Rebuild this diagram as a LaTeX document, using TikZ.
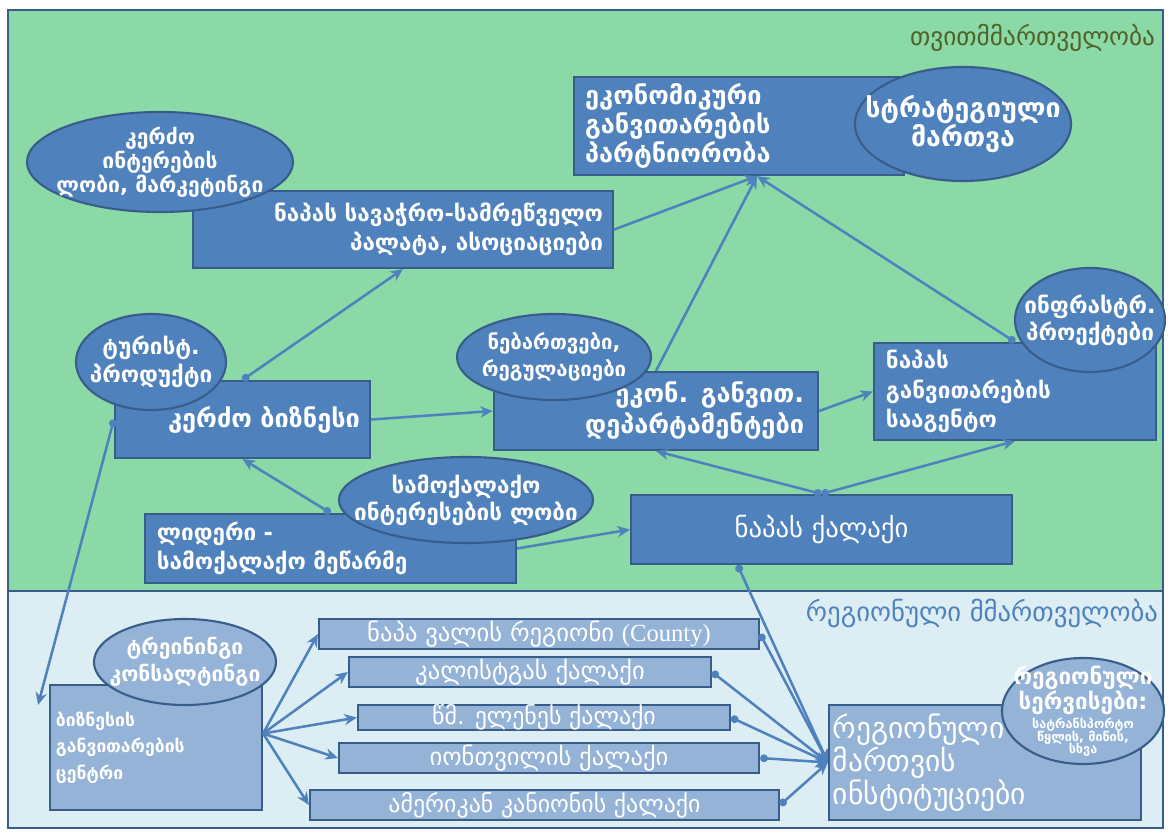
\documentclass[tikz,border=0pt]{standalone}
\usepackage{fontspec}
\setmainfont{DejaVu Sans}
\newfontfamily\latinserif{Liberation Serif}
\usetikzlibrary{shapes,arrows.meta,calc}

\definecolor{greenbg}{RGB}{140,217,168}
\definecolor{bluebg}{RGB}{220,238,244}
\definecolor{boxblue}{RGB}{79,129,189}
\definecolor{boxedge}{RGB}{56,93,138}
\definecolor{lightbox}{RGB}{149,179,215}
\definecolor{titlegreen}{RGB}{79,98,40}

\newcommand{\fsz}[2]{\fontsize{#1}{#2}\selectfont}

\tikzset{
  darkbox/.style={draw=boxedge, line width=1.5pt, fill=boxblue, text=white, inner sep=0pt},
  lightrect/.style={draw=boxedge, line width=1.5pt, fill=lightbox, text=white, inner sep=0pt},
  darkoval/.style={ellipse, draw=boxedge, line width=1.5pt, fill=boxblue, text=white, inner xsep=-60pt, inner ysep=-40pt, align=center},
  lightoval/.style={ellipse, draw=boxedge, line width=1.5pt, fill=lightbox, text=white, inner xsep=-60pt, inner ysep=-40pt, align=center},
  link/.style={draw=boxblue, line width=1.8pt, arrows={-Stealth[length=9pt,width=8pt]}},
  dotlink/.style={draw=boxblue, line width=1.8pt, arrows={Circle[length=5.5pt]-Stealth[length=9pt,width=8pt]}},
}

\begin{document}
\begin{tikzpicture}[x=0.025cm,y=-0.025cm]
    \useasboundingbox (0,0) rectangle (1168,833);
    \fill[white] (0,0) rectangle (1168,833);
    \fill[greenbg] (8,10) rectangle (1163,591);
    \fill[bluebg] (8,591) rectangle (1163,828);
    \draw[boxedge, line width=1.5pt] (8,10) rectangle (1163,828);
    \draw[boxedge, line width=1.5pt] (8,591) -- (1163,591);

    \node[anchor=east, text=titlegreen, font=\fsz{18}{21}] (selfgov) at (1160,38) {თვითმმართველობა};
    \node[anchor=east, text=boxblue, font=\fsz{19}{21}] (regov) at (1163,613) {რეგიონული მმართველობა};

    \node[darkbox, minimum width=8.25cm, minimum height=2.45cm, inner xsep=0.28cm, text width=7.69cm, align=left, font=\fsz{18}{20.6}\bfseries] (edp) at (739,126) {ეკონომიკური\\განვითარების\\პარტნიორობა};
    \node[darkbox, minimum width=10.5cm, minimum height=1.925cm, inner xsep=0.25cm, text width=10cm, align=right, font=\fsz{16}{21}\bfseries] (chamber) at (403,229.5) {ნაპას სავაჭრო-სამრეწველო\\პალატა, ასოციაციები};
    \node[darkbox, minimum width=6.375cm, minimum height=1.925cm, inner xsep=0.25cm, text width=5.875cm, align=right, font=\fsz{18}{21}\bfseries] (kb) at (242.5,419.5) {კერძო ბიზნესი};
    \node[darkbox, minimum width=8.1cm, minimum height=1.95cm, inner xsep=0.35cm, text width=7.4cm, align=right, font=\fsz{18}{22}\bfseries] (ekd) at (656,411) {ეკონ. განვით.\\დეპარტამენტები};
    \node[darkbox, minimum width=7.05cm, minimum height=2.425cm, inner xsep=0.3cm, text width=6.45cm, align=left, font=\fsz{16}{21}\bfseries] (agency) at (1015,391.5) {ნაპას\\განვითარების\\სააგენტო};
    \node[darkbox, minimum width=9.275cm, minimum height=1.725cm, inner xsep=0.3cm, text width=8.675cm, align=left, font=\fsz{16}{21}\bfseries] (leader) at (330.5,548.5) {ლიდერი -\\სამოქალაქო მეწარმე};
    \node[darkbox, minimum width=9.525cm, minimum height=1.725cm, font=\fsz{19}{21}] (city) at (821.5,529.5) {ნაპას ქალაქი};

    \node[lightrect, minimum width=5.3cm, minimum height=3.125cm, inner xsep=0.15cm, text width=5cm, align=left, font=\fsz{12.5}{19}\bfseries] (bdc) at (156,747.5) {ბიზნესის\\განვითარების\\ცენტრი};
    \node[lightrect, minimum width=7.8cm, minimum height=2.875cm, inner xsep=0.1cm, text width=7.6cm, align=left, font=\fsz{21}{21.5}] (rmi) at (985,762.5) {რეგიონული\\მართვის\\ინსტიტუციები};
    \node[lightrect, minimum width=11cm, minimum height=0.75cm, font=\fsz{17.5}{18}] (napa) at (539,634) {ნაპა ვალის რეგიონი {\latinserif(County)}};
    \node[lightrect, minimum width=9.05cm, minimum height=0.75cm, font=\fsz{17.5}{18}] (calistoga) at (530,672) {კალისტგას ქალაქი};
    \node[lightrect, minimum width=9.3cm, minimum height=0.625cm, font=\fsz{17}{18}] (helena) at (544,717.5) {წმ. ელენეს ქალაქი};
    \node[lightrect, minimum width=10.5cm, minimum height=0.75cm, font=\fsz{17.5}{18}] (yountville) at (549,758) {იონთვილის ქალაქი};
    \node[lightrect, minimum width=11.725cm, minimum height=0.75cm, font=\fsz{17}{18}] (canyon) at (544.5,805) {ამერიკან კანიონის ქალაქი};

    \node[darkoval, minimum width=6.65cm, minimum height=2.5cm, font=\fsz{15}{17}\bfseries] (lobby) at (160,162) {კერძო\\ინტერების\\ლობი, მარკეტინგი};
    \node[darkoval, minimum width=5.4cm, minimum height=2.85cm, font=\fsz{19}{21}\bfseries] (strategy) at (963,124) {სტრატეგიული\\მართვა};
    \node[darkoval, minimum width=3.75cm, minimum height=2.4cm, font=\fsz{16}{20}\bfseries] (tourism) at (151,362) {ტურისტ.\\პროდუქტი};
    \node[darkoval, minimum width=4.85cm, minimum height=2.15cm, font=\fsz{14.5}{19}\bfseries] (permits) at (554,357) {ნებართვები,\\რეგულაციები};
    \node[darkoval, minimum width=3.75cm, minimum height=2.6cm, font=\fsz{16}{19}\bfseries] (infra) at (1090,320) {ინფრასტრ.\\პროექტები};
    \node[darkoval, minimum width=6.35cm, minimum height=2.15cm, font=\fsz{16}{19}\bfseries] (civic) at (466,500) {სამოქალაქო\\ინტერესების ლობი};
    \node[lightoval, minimum width=4.55cm, minimum height=2.15cm, font=\fsz{15}{19}\bfseries] (training) at (185,662) {ტრეინინგი\\კონსალტინგი};
    \node[lightoval, minimum width=4.05cm, minimum height=2.65cm, font=\fsz{16}{16.5}\bfseries] (services) at (1083,711) {რეგიონული\\სერვისები:\\[-3pt]{\fsz{9}{9}სატრანსპორტო}\\[-7.5pt]{\fsz{9}{9}წყლის, მიწის,}\\[-7.5pt]{\fsz{9}{9}სხვა}};

    \coordinate (edpin) at ($(edp.south)+(18,0)$);
    \coordinate (bdcin) at (38,705);
    \coordinate (bdcout) at ($(bdc.east)+(0,-14)$);

    \draw[link] (chamber.east) -- (edpin);
    \draw[link] (ekd.north) -- (edpin);
    \draw[dotlink] (agency.north) -- (edpin);
    \draw[dotlink] (kb.north) -- (chamber.south);
    \draw[link] (kb.east) -- (ekd.west);
    \draw[link] (ekd.east) -- (agency.west);
    \draw[dotlink] (leader.north) -- (kb.south);
    \draw[link] (leader.east) -- (city.west);
    \draw[dotlink] (city.north) -- (ekd.south);
    \draw[dotlink] (city.north) -- (agency.south);
    \draw[dotlink] ($(city.south)+(-84,0)$) -- (rmi.west);
    \draw[dotlink] (kb.west) -- (bdcin);
    \foreach \town in {napa,calistoga,helena,yountville,canyon}{
        \draw[link] (bdcout) -- (\town.west);
        \draw[dotlink] (\town.east) -- (rmi.west);
    }
\end{tikzpicture}
\end{document}
